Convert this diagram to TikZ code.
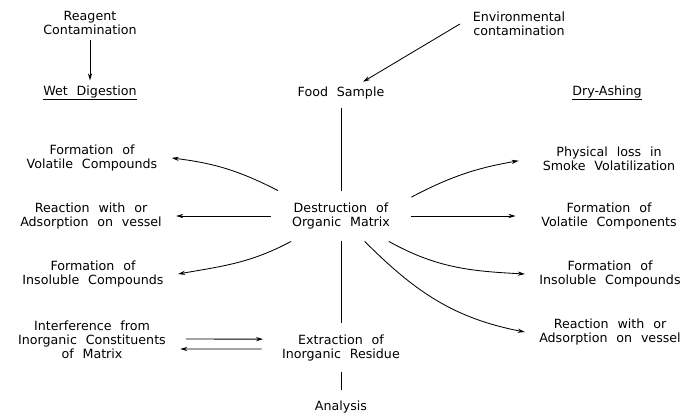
\documentclass[tikz,border=0pt]{standalone}
\usepackage{fontspec}
\setsansfont{DejaVu Sans}[WordSpace=2.2]
\usetikzlibrary{arrows.meta, positioning}

\begin{document}
\begin{tikzpicture}[>={Stealth[length=5pt,width=3pt]}, on grid, every node/.style={align=center, font=\fontsize{9}{10}\selectfont\sffamily}, outcome/.style={inner xsep=10pt}, line width=0.6pt]

\useasboundingbox (-8.525,-4.95) rectangle (8.8,5.4);

% Nodes
\node[minimum width=3.5cm, minimum height=1.25cm] (destr) at (0,0) {Destruction of\\Organic Matrix};
\node [above=3.075cm of destr] (food) {Food Sample};
\node[minimum height=1.2cm] [below=3.29cm of destr] (extr) {Extraction of\\Inorganic Residue};
\node[minimum height=0.85cm] [below=1.49cm of extr] (anal) {Analysis};
\node [left=6.275cm of food] (wet) {\underline{Wet Digestion}};
\node [above=1.75cm of wet] (reag) {Reagent\\Contamination};
\node [right=6.65cm of food] (dry) {\underline{Dry-Ashing}};
\node[inner xsep=9pt] [above right=1.725cm and 4.45cm of food] (env) {Environmental\\contamination};

\node[outcome] [above left=1.45cm and 6.225cm of destr] (lvol) {Formation of\\Volatile Compounds};
\node[outcome] [left=6.25cm of destr] (lreac) {Reaction with or\\Adsorption on vessel};
\node[outcome] [below left=1.45cm and 6.2cm of destr] (lins) {Formation of\\Insoluble Compounds};
\node[outcome] [above left=0.19cm and 6.225cm of extr] (interf) {Interference from\\Inorganic Constituents\\of Matrix};

\node[outcome] [above right=1.425cm and 6.7cm of destr] (rphys) {Physical loss in\\Smoke Volatilization};
\node[outcome] [right=6.7cm of destr] (rvol) {Formation of\\Volatile Components};
\node[outcome] [below right=1.45cm and 6.725cm of destr] (rins) {Formation of\\Insoluble Compounds};
\node[outcome] [below right=2.9cm and 6.725cm of destr] (rreac) {Reaction with or\\Adsorption on vessel};

% Edges
\draw[->] (reag) -- (wet);
\draw[->] (env.west) -- (food.27);
\draw[shorten <=3pt] (food) -- (destr);
\draw (destr) -- (extr);
\draw (extr) -- (anal);

\draw[->] (destr.158) to[out=153,in=-7] (lvol.east);
\draw[->] (destr) -- (lreac);
\draw[->] (destr.207) to[out=208,in=10] (lins.east);

\draw[->, shorten >=7pt] (destr.15) to[out=28,in=190] (rphys.west);
\draw[->, shorten >=8pt] (destr) -- (rvol);
\draw[->] (destr.-28) to[out=-29,in=177] (rins.west);
\draw[->] (destr.-47) to[out=-45,in=169] (rreac.west);

\draw[->, shorten <=4pt, shorten >=10pt] ([yshift=0.7pt]interf.east) -- ([yshift=6pt]extr.west);
\draw[->, shorten <=11pt] ([yshift=-1pt]extr.west) -- ([yshift=-6.4pt]interf.east);

\end{tikzpicture}
\end{document}
